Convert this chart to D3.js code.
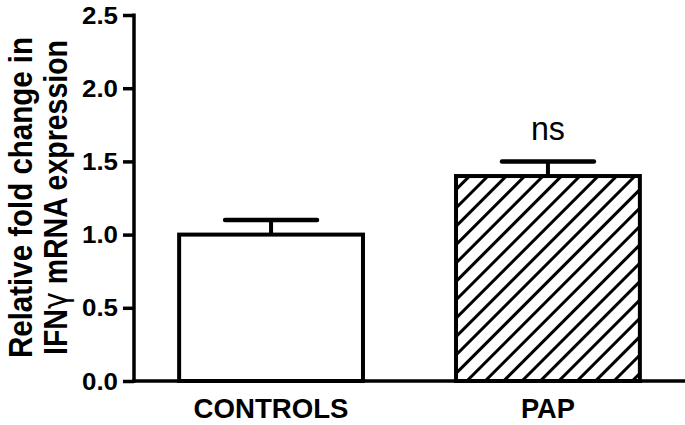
<!DOCTYPE html>
<html>
<head>
<meta charset="utf-8">
<script src="https://cdn.jsdelivr.net/npm/d3@7"></script>
<style>
  body { margin: 0; background: #fff; }
  svg { display: block; }
  text { font-family: "Liberation Sans", Arial, Helvetica, sans-serif; fill: #000; }
</style>
</head>
<body>
<div id="chart"></div>
<script>
// data
const groups = ["CONTROLS", "PAP"];
const means = [1.0, 1.4];
const errors = [0.1, 0.1];
const hatched = [false, true];
const yTicks = [0, 0.5, 1.0, 1.5, 2.0, 2.5];
const yTitle = ["Relative fold change in", "IFN\u03b3 mRNA expression"];
const signif = "ns";

const width = 685, height = 425;

const svg = d3.select("#chart").append("svg")
    .attr("width", width)
    .attr("height", height);

// hatch for the PAP bar
svg.append("defs").append("pattern")
    .attr("id", "hatch")
    .attr("patternUnits", "userSpaceOnUse")
    .attr("width", 13).attr("height", 13)
    .attr("patternTransform", "rotate(45)")
  .append("line")
    .attr("x1", 1.5).attr("y1", -2).attr("x2", 1.5).attr("y2", 15)
    .attr("stroke", "#000").attr("stroke-width", 3);

const x = d3.scaleBand()
    .domain(groups)
    .range([134, 685])
    .paddingInner(0.336)
    .paddingOuter(0.163);

const y = d3.scaleLinear()
    .domain([0, 2.5])
    .range([381, 15]);

// bars
const bar = svg.selectAll("g.bar")
    .data(groups)
    .enter().append("g").attr("class", "bar");

// error bars (drawn first so the bar outline covers the stem base)
bar.append("line")
    .attr("x1", d => x(d) + x.bandwidth() / 2)
    .attr("x2", d => x(d) + x.bandwidth() / 2)
    .attr("y1", (d, i) => y(means[i]))
    .attr("y2", (d, i) => y(means[i] + errors[i]))
    .attr("stroke", "#000").attr("stroke-width", 4);

bar.append("line")
    .attr("x1", d => x(d) + x.bandwidth() / 2 - x.bandwidth() / 4)
    .attr("x2", d => x(d) + x.bandwidth() / 2 + x.bandwidth() / 4)
    .attr("y1", (d, i) => y(means[i] + errors[i]))
    .attr("y2", (d, i) => y(means[i] + errors[i]))
    .attr("stroke", "#000").attr("stroke-width", 4.5)
    .attr("stroke-linecap", "round");

bar.append("rect")
    .attr("x", d => x(d))
    .attr("width", x.bandwidth())
    .attr("y", (d, i) => y(means[i]))
    .attr("height", (d, i) => y(0) - y(means[i]))
    .attr("fill", (d, i) => hatched[i] ? "url(#hatch)" : "#fff")
    .attr("stroke", "#000").attr("stroke-width", 4);

// axes
const yAxis = svg.append("g")
    .attr("transform", "translate(134,0)")
    .call(d3.axisLeft(y).tickValues(yTicks).tickFormat(d3.format(".1f")).tickSize(11).tickPadding(5));

yAxis.select(".domain").remove();
yAxis.selectAll(".tick line").attr("stroke", "#000").attr("stroke-width", 3.5);
yAxis.selectAll(".tick text")
    .style("font-size", "24px")
    .style("font-weight", "bold")
    .style("font-family", "'Liberation Sans', Arial, sans-serif")
    .attr("dy", "0.34em")
    .attr("textLength", 36)
    .attr("lengthAdjust", "spacingAndGlyphs");

svg.append("line")
    .attr("x1", 134).attr("x2", 134)
    .attr("y1", y(2.5) - 1.5).attr("y2", y(0) + 1.75)
    .attr("stroke", "#000").attr("stroke-width", 3.5);

svg.append("line")
    .attr("x1", 132.25).attr("x2", 685)
    .attr("y1", y(0)).attr("y2", y(0))
    .attr("stroke", "#000").attr("stroke-width", 3.5);

// x labels
const xLen = { "CONTROLS": 155, "PAP": 54 };
svg.selectAll("text.xlab")
    .data(groups)
    .enter().append("text").attr("class", "xlab")
    .attr("x", d => x(d) + x.bandwidth() / 2)
    .attr("y", 418)
    .attr("text-anchor", "middle")
    .attr("font-size", 28)
    .attr("font-weight", "bold")
    .attr("textLength", d => xLen[d])
    .attr("lengthAdjust", "spacingAndGlyphs")
    .text(d => d);

// significance label
svg.append("text")
    .attr("x", x("PAP") + x.bandwidth() / 2)
    .attr("y", 140)
    .attr("text-anchor", "middle")
    .attr("font-size", 34)
    .attr("textLength", 34)
    .attr("lengthAdjust", "spacingAndGlyphs")
    .text(signif);

// y title, two lines
svg.append("text")
    .attr("transform", "translate(32,197.5) rotate(-90)")
    .attr("text-anchor", "middle")
    .attr("font-size", 33)
    .attr("font-weight", "bold")
    .attr("textLength", 321)
    .attr("lengthAdjust", "spacingAndGlyphs")
    .text(yTitle[0]);

const t2 = svg.append("text")
    .attr("transform", "translate(67,197.5) rotate(-90)")
    .attr("text-anchor", "middle")
    .attr("font-size", 33)
    .attr("font-weight", "bold")
    .attr("textLength", 315)
    .attr("lengthAdjust", "spacingAndGlyphs");
const parts = yTitle[1].split("\u03b3");
t2.append("tspan").text(parts[0]);
t2.append("tspan").attr("font-weight", "normal").attr("font-family", "'DejaVu Sans', sans-serif").text("\u03b3");
t2.append("tspan").text(parts[1]);
</script>
</body>
</html>
